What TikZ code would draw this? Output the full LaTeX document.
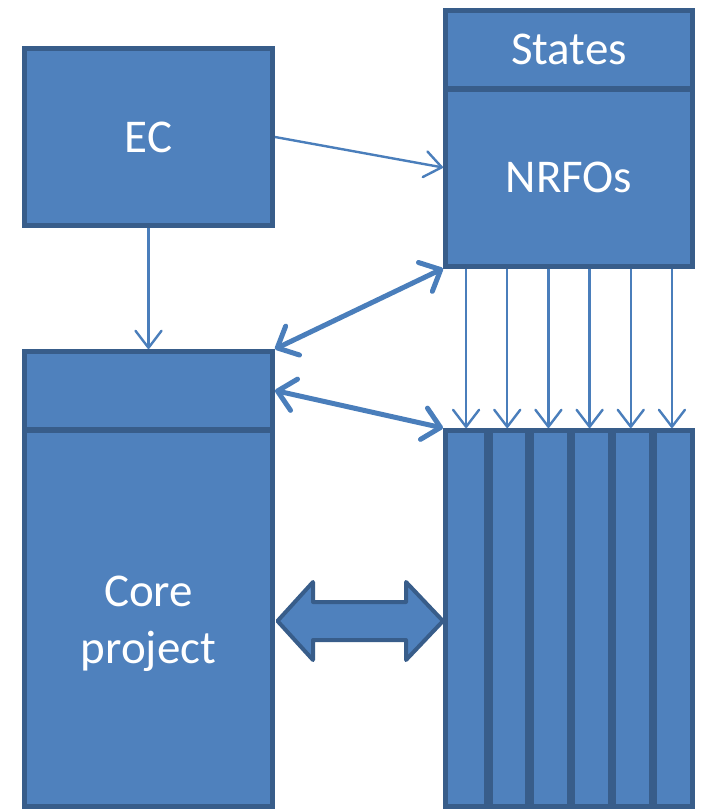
\documentclass[tikz,border=0pt]{standalone}
\usepackage{fontspec}
\setmainfont{Carlito}
\usetikzlibrary{arrows.meta}
\definecolor{boxfill}{HTML}{4F81BD}
\definecolor{boxline}{HTML}{385D8A}
\definecolor{arrowcol}{HTML}{4A7EBB}
\tikzset{
  box/.style={draw=boxline, fill=boxfill, line width=5pt, inner sep=0pt},
  lbl/.style={text=white, font=\fontsize{47}{57}\selectfont, align=center, inner sep=0pt},
  thin/.style={draw=arrowcol, line width=2.4pt, -{Straight Barb[length=17pt,width=26pt,round]}},
  thick/.style={draw=arrowcol, line width=5pt, line cap=round,
     {Straight Barb[length=17pt,width=32pt,round]}-{Straight Barb[length=17pt,width=32pt,round]}},
  divider/.style={draw=boxline, line width=7pt},
  blockarrow/.style={draw=boxline, fill=boxfill, line width=4pt, line join=round}
}
\begin{document}
\begin{tikzpicture}[x=1pt,y=-1pt]
\useasboundingbox (0,0) rectangle (701,809);
% boxes
\node[box, minimum width=248pt, minimum height=177pt] (ec) at (148.5,137) {};
\node[box, minimum width=247pt, minimum height=78pt] (states) at (569,49.5) {};
\node[box, minimum width=247pt, minimum height=177pt] (nrfos) at (569,177.5) {};
\node[box, minimum width=248pt, minimum height=78pt] (coretop) at (148.5,390.5) {};
\node[box, minimum width=248pt, minimum height=376pt] (core) at (148.5,618.5) {};
\foreach \i in {1,...,6}{
  \node[box, minimum width=41.17pt, minimum height=376pt] (c\i) at ({445.5+20.583+41.17*(\i-1)},618.5) {};
}
\foreach \i in {1,...,5}{
  \draw[divider] (c\i.north east) -- (c\i.south east);
}
% labels
\node[lbl] (ectxt) at (ec.center) {EC};
\node[lbl] (statestxt) at (states.center) {States};
\node[lbl] (nrfostxt) at (nrfos.center) {NRFOs};
\node[lbl] (coretxt) at (148.5,624) {Core\\project};
% thin arrows
\draw[thin] (ec.east) -- ([yshift=10pt]nrfos.west);
\draw[thin] (ec.south) -- (coretop.north);
\foreach \i in {1,...,6}{
  \draw[thin] (nrfos.south -| c\i.north) -- (c\i.north);
}
% thick double arrows
\draw[thick] (coretop.north east) -- (nrfos.south west);
\draw[thick] (coretop.east) -- (c1.north west);
% block double arrow
\draw[blockarrow] (277.5,621) -- (313,582) -- (313,602) -- (406,602) -- (406,582) -- (443,621)
  -- (406,660) -- (406,640) -- (313,640) -- (313,660) -- cycle;
\end{tikzpicture}
\end{document}
